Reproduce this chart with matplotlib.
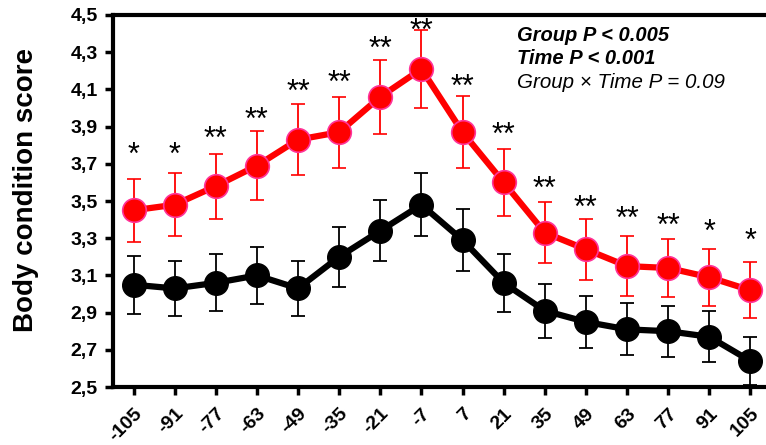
import numpy as np
import matplotlib.pyplot as plt

plt.rcParams['font.family'] = ['Liberation Sans', 'DejaVu Sans']

# days relative to calving
days = [-105, -91, -77, -63, -49, -35, -21, -7, 7, 21, 35, 49, 63, 77, 91, 105]

# red group
red_mean = [3.45, 3.48, 3.58, 3.69, 3.83, 3.87, 4.06, 4.21, 3.87, 3.60,
            3.33, 3.24, 3.15, 3.14, 3.09, 3.02]
red_err = [0.17, 0.17, 0.175, 0.185, 0.19, 0.19, 0.2, 0.21, 0.195, 0.18,
           0.165, 0.165, 0.16, 0.157, 0.153, 0.15]

# black group
black_mean = [3.05, 3.03, 3.06, 3.10, 3.03, 3.20, 3.34, 3.48, 3.29, 3.06,
              2.91, 2.85, 2.81, 2.80, 2.77, 2.64]
black_err = [0.155, 0.15, 0.153, 0.155, 0.15, 0.16, 0.165, 0.17, 0.165, 0.155,
             0.145, 0.14, 0.14, 0.137, 0.137, 0.13]

# significance marks and their heights
stars = ['*', '*', '**', '**', '**', '**', '**', '**', '**', '**',
         '**', '**', '**', '**', '*', '*']
star_y = [3.78, 3.78, 3.87, 3.97, 4.12, 4.17, 4.35, 4.45, 4.15, 3.89,
          3.60, 3.50, 3.44, 3.40, 3.37, 3.32]

fig = plt.figure(figsize=(7.66, 4.45), dpi=100)
ax = fig.add_axes([0.1475, 0.1303, 0.859, 0.836])

x = np.arange(len(days))

ax.errorbar(x, black_mean, yerr=black_err, color='black', lw=4.5,
            marker='o', ms=17, mfc='black', mec='black',
            ecolor='black', elinewidth=1.3, capsize=5, capthick=1.3, zorder=3)
ax.errorbar(x, red_mean, yerr=red_err, color='#ff0000', lw=4.5,
            marker='o', ms=17, mfc='#ff0000', mec='#ff3399', mew=1.2,
            ecolor='#ff0000', elinewidth=1.3, capsize=5, capthick=1.3, zorder=4)

# glyph of '*' sits high in its box, shift down a bit
for xi, sy, s in zip(x, star_y, stars):
    ax.text(xi, sy - 0.04, s, ha='center', va='center', fontsize=22)

ax.text(0.614, 0.945, 'Group P < 0.005', transform=ax.transAxes,
        fontsize=14.5, fontweight='bold', style='italic', va='center')
ax.text(0.614, 0.882, 'Time P < 0.001', transform=ax.transAxes,
        fontsize=14.5, fontweight='bold', style='italic', va='center')
ax.text(0.614, 0.818, 'Group × Time P = 0.09', transform=ax.transAxes,
        fontsize=14.8, style='italic', va='center')

ax.set_xlim(-0.5, 15.5)
ax.set_ylim(2.5, 4.5)
yt = np.arange(2.5, 4.51, 0.2)
ax.set_yticks(yt)
ax.set_yticklabels([('%.1f' % v).replace('.', ',') for v in yt],
                   fontsize=14, fontweight='bold')
ax.set_xticks(x)
ax.set_xticklabels([str(d) for d in days], rotation=45, ha='right',
                   va='top', rotation_mode='anchor', fontsize=14, fontweight='bold')
ax.tick_params(axis='both', direction='out', length=6, width=2.5)
ax.tick_params(axis='y', pad=5)
ax.tick_params(axis='x', pad=7)

for sp in ['left', 'bottom', 'top']:
    ax.spines[sp].set_linewidth(3)
ax.spines['right'].set_visible(False)

ax.set_ylabel('Body condition score', fontsize=20, fontweight='bold')
ax.yaxis.set_label_coords(-0.113, 0.53)

fig.savefig('out.png', dpi=100)
